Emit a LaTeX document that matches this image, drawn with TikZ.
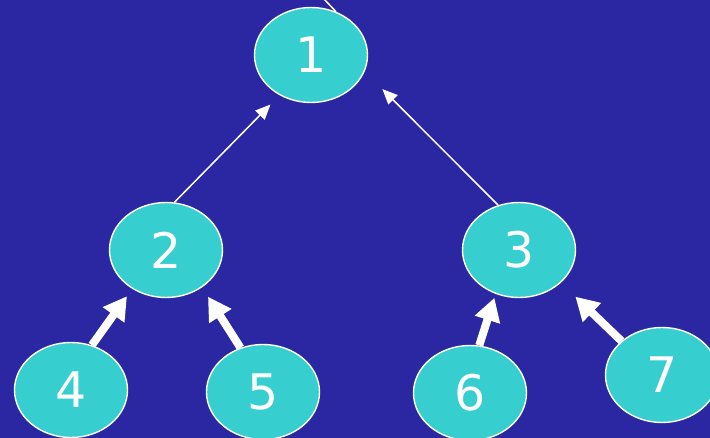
\documentclass[tikz,border=0pt]{standalone}
\usepackage{fontspec}
\setmainfont{DejaVu Sans}
\usetikzlibrary{shapes.geometric,arrows.meta}
\definecolor{bgblue}{RGB}{43,39,163}
\definecolor{teal1}{RGB}{54,206,206}
\pgfdeclarelayer{bg}
\pgfsetlayers{bg,main}
\tikzset{
  treenode/.style={ellipse, draw=white, line width=1.4pt, fill=teal1,
    minimum width=113pt, minimum height=95pt, inner sep=0pt,
    text=white, font=\fontsize{49}{52}\selectfont},
  thinarrow/.style={draw=white, line width=1.5pt, -{Triangle[length=15pt,width=13pt]}},
  thickarrow/.style={draw=white, line width=8pt, -{Triangle[length=23pt,width=25pt]}},
}
\begin{document}
\begin{tikzpicture}[x=1pt,y=-1pt]
\useasboundingbox (0,0) rectangle (710,438);
\begin{pgfonlayer}{bg}
\fill[bgblue] (0,0) rectangle (710,438);
\end{pgfonlayer}
\clip (0,0) rectangle (710,438);
\node[treenode] (n1) at (311,55) {\raisebox{-2pt}{1}};
\node[treenode] (n2) at (166,250) {2};
\node[treenode] (n3) at (519,250) {3};
\node[treenode] (n4) at (71,390) {\raisebox{-2pt}{4}};
\node[treenode] (n5) at (263,392) {\raisebox{-2pt}{5}};
\node[treenode] (n6) at (470,393) {\raisebox{-2pt}{6}};
\node[treenode] (n7) at (662,375) {7};
\coordinate (top) at (322,-3);
\begin{pgfonlayer}{bg}
\draw[white, line width=1.5pt] (n1.60) -- (top);
\draw[thinarrow, shorten >=13pt] (n2.80) -- (n1.232);
\draw[thinarrow, shorten >=25pt] (n3.115) -- (n1.343);
\draw[thickarrow, shorten >=9pt] (n4.65) -- (n2.229);
\draw[thickarrow, shorten >=11pt] (n5.117) -- (n2.314);
\draw[thickarrow, shorten >=4pt] (n6.79) -- (n3.242);
\draw[thickarrow, shorten >=20pt] (n7.140) -- (n3.322);
\end{pgfonlayer}
\end{tikzpicture}
\end{document}
